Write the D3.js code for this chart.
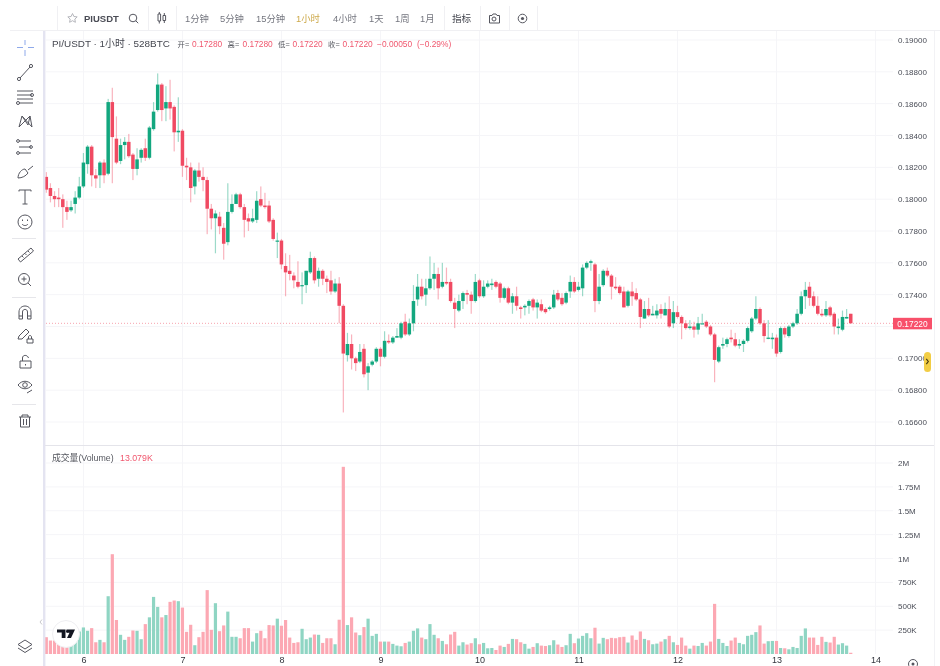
<!DOCTYPE html>
<html>
<head>
<meta charset="utf-8">
<script src="https://cdn.jsdelivr.net/npm/d3@7"></script>
<style>
  html, body { margin: 0; padding: 0; background: #fff; overflow: hidden; }
  svg { display: block; filter: blur(0.4px); }
  text { font-family: "Liberation Sans", "Noto Sans CJK SC", sans-serif; }
  .tick line, .domain { display: none; }
  .icon { fill: none; stroke: #55565f; stroke-width: 1; }
</style>
</head>
<body>
<div id="chart"></div>
<script>
// DATA ------------------------------------
const opens = [
  0.1814,0.1807,0.1802,0.1801,0.1800,0.1795,0.1793,0.1797,0.1801,0.1808,0.1822,0.1833,0.1815,0.1815,
  0.1823,0.1816,0.1861,0.1838,0.1824,0.1834,0.1836,0.1828,0.1819,0.1826,0.1832,0.1826,0.1844,0.1856,
  0.1872,0.1857,0.1861,0.1858,0.1842,0.1843,0.1821,0.1820,0.1808,0.1818,0.1814,0.1812,0.1794,0.1788,
  0.1789,0.1782,0.1773,0.1792,0.1797,0.1803,0.1795,0.1788,0.1786,0.1787,0.1800,0.1796,0.1796,0.1787,
  0.1774,0.1774,0.1758,0.1755,0.1752,0.1748,0.1746,0.1746,0.1754,0.1763,0.1750,0.1755,0.1750,0.1749,
  0.1742,0.1747,0.1733,0.1702,0.1709,0.1700,0.1698,0.1706,0.1691,0.1696,0.1698,0.1706,0.1701,0.1711,
  0.1710,0.1713,0.1713,0.1723,0.1715,0.1722,0.1737,0.1745,0.1740,0.1744,0.1750,0.1753,0.1745,0.1748,
  0.1748,0.1735,0.1730,0.1736,0.1741,0.1740,0.1736,0.1749,0.1739,0.1745,0.1746,0.1748,0.1747,0.1738,
  0.1744,0.1735,0.1739,0.1732,0.1732,0.1733,0.1737,0.1732,0.1734,0.1731,0.1731,0.1732,0.1741,0.1738,
  0.1735,0.1742,0.1748,0.1743,0.1744,0.1757,0.1760,0.1759,0.1736,0.1746,0.1755,0.1752,0.1745,0.1745,
  0.1742,0.1733,0.1742,0.1741,0.1737,0.1725,0.1731,0.1727,0.1727,0.1731,0.1727,0.1731,0.1722,0.1729,
  0.1726,0.1722,0.1719,0.1720,0.1718,0.1722,0.1723,0.1720,0.1715,0.1698,0.1708,0.1709,0.1713,0.1712,
  0.1708,0.1709,0.1711,0.1717,0.1725,0.1731,0.1722,0.1713,0.1712,0.1713,0.1704,0.1719,0.1714,0.1720,
  0.1722,0.1728,0.1739,0.1745,0.1739,0.1733,0.1728,0.1727,0.1732,0.1728,0.1719,0.1718,0.1725,0.1728
]
const highs = [
  0.1817,0.1810,0.1805,0.1807,0.1803,0.1799,0.1799,0.1805,0.1814,0.1829,0.1834,0.1834,0.1819,0.1824,
  0.1825,0.1863,0.1870,0.1852,0.1838,0.1839,0.1841,0.1829,0.1832,0.1832,0.1838,0.1846,0.1861,0.1879,
  0.1873,0.1871,0.1875,0.1859,0.1864,0.1844,0.1826,0.1823,0.1819,0.1823,0.1820,0.1814,0.1797,0.1793,
  0.1792,0.1785,0.1810,0.1803,0.1804,0.1804,0.1797,0.1791,0.1794,0.1805,0.1808,0.1804,0.1799,0.1788,
  0.1779,0.1775,0.1766,0.1765,0.1754,0.1761,0.1754,0.1755,0.1767,0.1764,0.1757,0.1756,0.1752,0.1755,
  0.1750,0.1751,0.1734,0.1716,0.1715,0.1701,0.1709,0.1709,0.1697,0.1699,0.1707,0.1707,0.1717,0.1715,
  0.1714,0.1719,0.1723,0.1728,0.1725,0.1746,0.1753,0.1750,0.1750,0.1764,0.1760,0.1757,0.1760,0.1757,
  0.1750,0.1738,0.1740,0.1742,0.1743,0.1742,0.1753,0.1750,0.1749,0.1749,0.1750,0.1749,0.1748,0.1745,
  0.1745,0.1741,0.1745,0.1733,0.1734,0.1737,0.1738,0.1737,0.1737,0.1732,0.1733,0.1743,0.1743,0.1741,
  0.1742,0.1752,0.1751,0.1748,0.1759,0.1761,0.1762,0.1760,0.1753,0.1756,0.1757,0.1753,0.1751,0.1746,
  0.1745,0.1743,0.1748,0.1744,0.1738,0.1736,0.1738,0.1733,0.1734,0.1734,0.1735,0.1739,0.1736,0.1733,
  0.1727,0.1724,0.1724,0.1723,0.1726,0.1728,0.1724,0.1721,0.1716,0.1708,0.1713,0.1713,0.1718,0.1716,
  0.1712,0.1712,0.1720,0.1726,0.1739,0.1732,0.1724,0.1724,0.1716,0.1715,0.1720,0.1720,0.1721,0.1723,
  0.1731,0.1742,0.1748,0.1748,0.1742,0.1739,0.1731,0.1736,0.1733,0.1729,0.1725,0.1730,0.1731,0.1728
]
const lows = [
  0.1804,0.1798,0.1795,0.1795,0.1782,0.1787,0.1792,0.1791,0.1800,0.1807,0.1816,0.1808,0.1807,0.1807,
  0.1810,0.1815,0.1810,0.1822,0.1822,0.1825,0.1826,0.1812,0.1815,0.1823,0.1824,0.1825,0.1843,0.1855,
  0.1849,0.1849,0.1850,0.1830,0.1836,0.1814,0.1812,0.1798,0.1803,0.1811,0.1805,0.1778,0.1781,0.1766,
  0.1778,0.1762,0.1771,0.1791,0.1797,0.1794,0.1776,0.1780,0.1785,0.1785,0.1795,0.1794,0.1785,0.1774,
  0.1763,0.1756,0.1739,0.1749,0.1744,0.1744,0.1734,0.1741,0.1753,0.1747,0.1745,0.1746,0.1741,0.1740,
  0.1741,0.1722,0.1666,0.1698,0.1693,0.1692,0.1697,0.1688,0.1680,0.1695,0.1697,0.1695,0.1700,0.1709,
  0.1709,0.1713,0.1712,0.1714,0.1714,0.1717,0.1733,0.1737,0.1733,0.1743,0.1743,0.1737,0.1744,0.1746,
  0.1735,0.1719,0.1729,0.1731,0.1734,0.1728,0.1735,0.1738,0.1738,0.1744,0.1743,0.1744,0.1735,0.1737,
  0.1734,0.1728,0.1730,0.1725,0.1727,0.1728,0.1730,0.1725,0.1729,0.1728,0.1730,0.1731,0.1736,0.1733,
  0.1734,0.1738,0.1741,0.1742,0.1739,0.1756,0.1755,0.1729,0.1734,0.1745,0.1751,0.1737,0.1743,0.1740,
  0.1732,0.1732,0.1733,0.1736,0.1719,0.1725,0.1726,0.1727,0.1725,0.1725,0.1727,0.1719,0.1719,0.1725,
  0.1712,0.1718,0.1718,0.1713,0.1715,0.1722,0.1719,0.1714,0.1685,0.1697,0.1706,0.1707,0.1710,0.1707,
  0.1706,0.1704,0.1710,0.1716,0.1724,0.1721,0.1710,0.1712,0.1706,0.1701,0.1703,0.1713,0.1713,0.1719,
  0.1721,0.1727,0.1731,0.1733,0.1732,0.1727,0.1726,0.1726,0.1726,0.1715,0.1715,0.1717,0.1725,0.1722
]
const closes = [
  0.1806,0.1802,0.1800,0.1800,0.1795,0.1792,0.1795,0.1801,0.1808,0.1823,0.1833,0.1815,0.1813,0.1823,
  0.1815,0.1861,0.1839,0.1823,0.1834,0.1836,0.1827,0.1819,0.1825,0.1831,0.1826,0.1845,0.1855,0.1872,
  0.1856,0.1861,0.1857,0.1842,0.1843,0.1821,0.1820,0.1807,0.1818,0.1814,0.1812,0.1794,0.1788,0.1791,
  0.1783,0.1772,0.1792,0.1797,0.1803,0.1795,0.1787,0.1786,0.1788,0.1799,0.1796,0.1795,0.1786,0.1775,
  0.1774,0.1759,0.1754,0.1753,0.1749,0.1745,0.1746,0.1755,0.1763,0.1749,0.1755,0.1750,0.1748,0.1742,
  0.1747,0.1733,0.1703,0.1709,0.1700,0.1697,0.1704,0.1690,0.1695,0.1698,0.1706,0.1701,0.1711,0.1710,
  0.1713,0.1714,0.1722,0.1715,0.1722,0.1736,0.1745,0.1739,0.1744,0.1750,0.1753,0.1744,0.1748,0.1747,
  0.1736,0.1731,0.1736,0.1741,0.1740,0.1736,0.1748,0.1739,0.1745,0.1747,0.1747,0.1745,0.1738,0.1744,
  0.1735,0.1739,0.1733,0.1731,0.1733,0.1736,0.1732,0.1735,0.1730,0.1729,0.1732,0.1740,0.1737,0.1734,
  0.1741,0.1748,0.1742,0.1745,0.1757,0.1760,0.1761,0.1736,0.1745,0.1755,0.1752,0.1745,0.1744,0.1741,
  0.1732,0.1742,0.1739,0.1737,0.1726,0.1731,0.1727,0.1728,0.1730,0.1728,0.1731,0.1720,0.1729,0.1726,
  0.1722,0.1719,0.1720,0.1718,0.1722,0.1722,0.1720,0.1715,0.1699,0.1707,0.1709,0.1712,0.1712,0.1708,
  0.1709,0.1711,0.1719,0.1725,0.1731,0.1722,0.1714,0.1713,0.1713,0.1703,0.1719,0.1715,0.1720,0.1722,
  0.1728,0.1739,0.1743,0.1738,0.1733,0.1728,0.1727,0.1731,0.1727,0.1720,0.1720,0.1726,0.1726,0.1722
]
// volume per candle, in thousands
const volumes = [
  176,141,141,148,113,95,95,218,236,278,243,271,123,148,123,605,1045,356,201,148,180,246,243,155,
  313,384,598,493,384,408,546,560,553,486,232,306,92,176,232,669,253,532,239,299,444,180,180,165,
  271,271,130,218,243,165,303,299,370,296,356,172,116,123,264,155,172,204,201,116,165,165,102,359,
  1960,303,384,225,197,282,370,190,211,130,130,130,106,88,81,116,130,243,268,172,155,313,201,165,
  137,102,204,232,88,123,99,113,165,102,116,60,63,42,88,74,106,158,155,123,106,56,74,113,
  88,84,92,144,99,74,92,211,113,162,190,218,165,275,109,169,155,169,165,176,180,120,194,148,
  236,158,144,102,109,130,155,190,123,95,172,88,56,88,84,116,88,130,525,158,116,84,141,172,
  116,102,190,201,229,299,109,134,137,137,63,60,49,74,63,190,268,172,172,95,180,127,120,180,
  99,113,88,13
]
const priceTicks = [0.19,0.188,0.186,0.184,0.182,0.18,0.178,0.176,0.174,0.172,0.17,0.168,0.166]
// the 0.172 label sits under the last price box, so the axis leaves it out
const priceLabelTicks = [0.19,0.188,0.186,0.184,0.182,0.18,0.178,0.176,0.174,0.17,0.168,0.166]
const volumeTicks = [2000,1750,1500,1250,1000,750,500,250]
const volumeTickLabels = ["2M","1.75M","1.5M","1.25M","1M","750K","500K","250K"]
// index of the first candle of each day
const dayIndex = [9,33,57,81,105,129,153,177,201]
const dayLabels = ["6","7","8","9","10","11","12","13","14"]
const lastPrice = 0.1722
const timeframes = ["1分钟","5分钟","15分钟","1小时","4小时","1天","1周","1月"]
const timeframeX = [185,220,256,296,333,369,395,420]

// CHART INIT ------------------------------
const width = 940, height = 666
const green = "#13a77f", red = "#f04a62"
const greenVol = "#8fd5c3", redVol = "#fca8b3"
const gridColor = "#f5f5f8", axisText = "#4a4d57"

const svg = d3.select("#chart").append("svg")
    .attr("width", width)
    .attr("height", height)

const xScale = d3.scaleLinear().domain([0, 201]).range([46.3, 875.5])
const yScale = d3.scaleLinear().domain([0.19, 0.166]).range([40, 422])
const vScale = d3.scaleLinear().domain([0, 2000]).range([654, 463])

const candles = d3.range(opens.length).map(i => ({
    i, o: opens[i], h: highs[i], l: lows[i], c: closes[i], v: volumes[i], up: closes[i] >= opens[i]
}))

// GRID ------------------------------------
svg.append("g").selectAll("line").data(dayIndex).join("line")
    .attr("x1", d => xScale(d)).attr("x2", d => xScale(d))
    .attr("y1", 31).attr("y2", 654)
    .attr("stroke", gridColor)
svg.append("g").selectAll("line").data(priceTicks).join("line")
    .attr("x1", 46).attr("x2", 893)
    .attr("y1", d => yScale(d)).attr("y2", d => yScale(d))
    .attr("stroke", gridColor)
svg.append("g").selectAll("line").data(volumeTicks).join("line")
    .attr("x1", 46).attr("x2", 893)
    .attr("y1", d => vScale(d)).attr("y2", d => vScale(d))
    .attr("stroke", gridColor)

// VOLUME ----------------------------------
svg.append("g").selectAll("rect").data(candles).join("rect")
    .attr("x", d => xScale(d.i) - 1.6)
    .attr("width", 3.2)
    .attr("y", d => vScale(d.v))
    .attr("height", d => vScale(0) - vScale(d.v))
    .attr("fill", d => d.up ? greenVol : redVol)

// LAST PRICE LINE -------------------------
svg.append("line")
    .attr("x1", 46).attr("x2", 893)
    .attr("y1", yScale(lastPrice)).attr("y2", yScale(lastPrice))
    .attr("stroke", "#f7a3af")
    .attr("stroke-dasharray", "1 2")

// CANDLES ---------------------------------
svg.append("g").selectAll("rect").data(candles).join("rect")
    .attr("x", d => xScale(d.i) - 0.6)
    .attr("width", 1.2)
    .attr("y", d => yScale(d.h))
    .attr("height", d => yScale(d.l) - yScale(d.h))
    .attr("fill", d => d.up ? green : red)
    .attr("fill-opacity", 0.42)
svg.append("g").selectAll("rect").data(candles).join("rect")
    .attr("x", d => xScale(d.i) - 1.75)
    .attr("width", 3.5)
    .attr("y", d => yScale(Math.max(d.o, d.c)))
    .attr("height", d => Math.max(1.2, Math.abs(yScale(d.o) - yScale(d.c))))
    .attr("fill", d => d.up ? green : red)

// AXES ------------------------------------
const priceAxis = d3.axisRight(yScale)
    .tickValues(priceLabelTicks)
    .tickFormat(d3.format(".5f"))
    .tickSize(0)
    .tickPadding(0)
const gPrice = svg.append("g").attr("transform", "translate(898,0)").call(priceAxis)
const volAxis = d3.axisRight(vScale)
    .tickValues(volumeTicks)
    .tickFormat((d, i) => volumeTickLabels[i])
    .tickSize(0)
    .tickPadding(0)
const gVol = svg.append("g").attr("transform", "translate(898,0)").call(volAxis)
const timeAxis = d3.axisBottom(xScale)
    .tickValues(dayIndex)
    .tickFormat((d, i) => dayLabels[i])
    .tickSize(0)
    .tickPadding(0)
const gTime = svg.append("g").attr("transform", "translate(0,657)").call(timeAxis)
gPrice.selectAll("text").attr("fill", axisText).style("font-size", "8px")
gVol.selectAll("text").attr("fill", axisText).style("font-size", "8px")
gTime.selectAll("text").attr("fill", "#33353d").style("font-size", "9px")
svg.selectAll(".domain").remove()

// CHROME LINES ----------------------------
const chrome = svg.append("g")
chrome.append("rect").attr("x", 43).attr("y", 31).attr("width", 2.4).attr("height", 635).attr("fill", "#e4e4f1")
chrome.append("line").attr("x1", 10).attr("x2", 940).attr("y1", 30.5).attr("y2", 30.5).attr("stroke", "#f0f0f3")
chrome.append("line").attr("x1", 45).attr("x2", 934).attr("y1", 445.5).attr("y2", 445.5).attr("stroke", "#e4e4ea")
chrome.append("line").attr("x1", 934.5).attr("x2", 934.5).attr("y1", 31).attr("y2", 666).attr("stroke", "#f2f2f5")
chrome.selectAll(".sep").data([57,148,176,444,480,509,537]).join("line")
    .attr("x1", d => d + 0.5).attr("x2", d => d + 0.5)
    .attr("y1", 6).attr("y2", 30)
    .attr("stroke", "#f0f0f3")
chrome.selectAll(".lsep").data([238,297,404]).join("line")
    .attr("x1", 12).attr("x2", 36)
    .attr("y1", d => d + 0.5).attr("y2", d => d + 0.5)
    .attr("stroke", "#e6e6ea")

// TOP TOOLBAR -----------------------------
const tb = svg.append("g")
tb.append("text").attr("x", 84).attr("y", 21.5).text("PIUSDT")
    .style("font-size", "9.5px").style("font-weight", "bold").attr("fill", "#4a4c55")
tb.selectAll(".tf").data(timeframes).join("text")
    .attr("x", (d, i) => timeframeX[i])
    .attr("y", 22)
    .text(d => d)
    .style("font-size", "9.4px")
    .attr("fill", d => d === "1小时" ? "#cda94a" : "#74767f")
tb.append("text").attr("x", 452).attr("y", 22).text("指标")
    .style("font-size", "9.6px").attr("fill", "#44464f")
// star
tb.append("path").attr("class", "icon")
    .style("stroke", "#b4b5bb")
    .attr("d", "M72.5 13.5l1.4 3 3.3.4-2.4 2.2.6 3.2-2.9-1.6-2.9 1.6.6-3.2-2.4-2.2 3.3-.4z")
// search
tb.append("circle").attr("class", "icon").attr("cx", 133).attr("cy", 18).attr("r", 3.8)
tb.append("path").attr("class", "icon").attr("d", "M135.8 20.8l2.4 2.4")
// candle type
tb.append("path").attr("class", "icon").attr("d", "M158 14h2.6v7H158zM159.3 12v2M159.3 21v2.5M163 15.5h2.6v5H163zM164.3 13v2.5M164.3 20.5v2.5")
// camera
tb.append("path").attr("class", "icon").attr("d", "M489.5 15.5h2.5l1-1.5h3l1 1.5h2.5v7.5h-10z")
tb.append("circle").attr("class", "icon").attr("cx", 494).attr("cy", 19).attr("r", 2)
// gear
tb.append("circle").attr("class", "icon").attr("cx", 522.5).attr("cy", 18.5).attr("r", 4.3)
tb.append("circle").attr("cx", 522.5).attr("cy", 18.5).attr("r", 1.6).attr("fill", "#55565f")

// LEGENDS ---------------------------------
const lg = svg.append("g")
lg.append("text").attr("x", 52).attr("y", 47).text("PI/USDT · 1小时 · 528BTC")
    .style("font-size", "9.9px").attr("fill", "#44464f")
const ohlcLabels = [["开=",177.5],["高=",227.5],["低=",278],["收=",328]]
const ohlcValues = [["0.17280",192],["0.17280",242.5],["0.17220",292.5],["0.17220",342.5],["−0.00050",377],["(−0.29%)",417]]
lg.selectAll(".ol").data(ohlcLabels).join("text")
    .attr("x", d => d[1]).attr("y", 46.5).text(d => d[0])
    .style("font-size", "7.4px").attr("fill", "#55575f")
lg.selectAll(".ov").data(ohlcValues).join("text")
    .attr("x", d => d[1]).attr("y", 46.5).text(d => d[0])
    .style("font-size", "8.4px").attr("fill", "#f0576e")
lg.append("text").attr("x", 52).attr("y", 461).text("成交量(Volume)")
    .style("font-size", "8.8px").attr("fill", "#55575f")
lg.append("text").attr("x", 120).attr("y", 461).text("13.079K")
    .style("font-size", "8.8px").attr("fill", "#f0576e")

// PRICE LABELS ----------------------------
svg.append("rect").attr("x", 893).attr("y", yScale(lastPrice) - 5.5).attr("width", 39).attr("height", 11.5).attr("fill", "#f8506a")
svg.append("text").attr("x", 912.5).attr("y", yScale(lastPrice) + 3.2)
    .attr("text-anchor", "middle").attr("fill", "#fff")
    .style("font-size", "8.4px").text(d3.format(".5f")(lastPrice))
svg.append("rect").attr("x", 924).attr("y", 352).attr("width", 7).attr("height", 20).attr("rx", 3.5).attr("fill", "#f2cd45")
svg.append("path").attr("d", "M926.3 358.8l2 2.7-2 2.7").attr("fill", "none").attr("stroke", "#4a3d10").attr("stroke-width", 1.2)

// LEFT TOOLBAR ----------------------------
const lb = svg.append("g")
// crosshair
lb.append("path").attr("class", "icon").style("stroke", "#8ea9ea")
    .attr("d", "M25 40v5M25 50v6M17 47.5h6M28 47.5h6")
// trend line
lb.append("path").attr("class", "icon").attr("d", "M20 78L30 67")
lb.append("circle").attr("class", "icon").attr("cx", 19).attr("cy", 79).attr("r", 1.6)
lb.append("circle").attr("class", "icon").attr("cx", 31).attr("cy", 66).attr("r", 1.6)
// fib lines
lb.append("path").attr("class", "icon").attr("d", "M17 91h16M17 95h15M17 99h16M19 103h14")
lb.append("circle").attr("class", "icon").attr("cx", 32).attr("cy", 95).attr("r", 1.5)
lb.append("circle").attr("class", "icon").attr("cx", 18).attr("cy", 103).attr("r", 1.5)
// xabcd
lb.append("path").attr("class", "icon").attr("d", "M19 127L22 116L28 125L30 116L32 127L22 116M19 127L30 116")
// fib tool
lb.append("path").attr("class", "icon").attr("d", "M19 141h12M19 147h12M19 153h12")
lb.append("circle").attr("class", "icon").attr("cx", 18).attr("cy", 141).attr("r", 1.4)
lb.append("circle").attr("class", "icon").attr("cx", 31).attr("cy", 147).attr("r", 1.4)
lb.append("circle").attr("class", "icon").attr("cx", 18).attr("cy", 153).attr("r", 1.4)
// brush
lb.append("path").attr("class", "icon").attr("d", "M18 178c0-5 4-9 7-9l3 4c-2 3-6 5-10 5zM28 170l5-4")
// text
lb.append("path").attr("class", "icon").attr("d", "M19 191.5v-1.5h12v1.5M25 190v14M22.5 204h5")
// smile
lb.append("circle").attr("class", "icon").attr("cx", 25).attr("cy", 222).attr("r", 7)
lb.append("path").attr("class", "icon").attr("d", "M22 224c1.5 2 4.5 2 6 0M22.5 219.5v1.5M27.5 219.5v1.5")
// ruler
lb.append("path").attr("class", "icon").attr("d", "M18 259l13-11 2.5 3-13 11zM22 256l1.5 1.5M25 253.5l1.5 1.5M28 251l1.5 1.5")
// zoom
lb.append("circle").attr("class", "icon").attr("cx", 24).attr("cy", 279).attr("r", 5.5)
lb.append("path").attr("class", "icon").attr("d", "M21.5 279h5M24 276.5v5M28 283l3 3")
// magnet
lb.append("path").attr("class", "icon").attr("d", "M19 319v-7c0-8 12-8 12 0v7h-3.5v-7c0-3.5-5-3.5-5 0v7zM19 316h3.5M27.5 316h3.5")
// pencil lock
lb.append("path").attr("class", "icon").attr("d", "M18 339l1-3 7-7 3 3-7 7zM27 339h6v4h-6zM28.5 339v-2c0-2 3-2 3 0v2")
// lock
lb.append("path").attr("class", "icon").attr("d", "M20 361h11v7h-11zM22.5 361v-3c0-3.5 5-3.5 6 0M25.5 364v1.5")
// eye
lb.append("path").attr("class", "icon").attr("d", "M18 385c4-5 10-5 14 0c-4 5-10 5-14 0zM27 393l5-3")
lb.append("circle").attr("class", "icon").attr("cx", 25).attr("cy", 385).attr("r", 2.3)
// trash
lb.append("path").attr("class", "icon").attr("d", "M19 417h12M22 417v-2h6v2M20.5 417v10h9v-10M23.5 419v6M26.5 419v6")
// layers
lb.append("path").attr("class", "icon").attr("d", "M25 640l7 4.5-7 4.5-7-4.5zM18 648l7 4.5 7-4.5")
// collapse handle
svg.append("path").attr("d", "M42 619.5l-2 2.5 2 2.5").attr("fill", "none").attr("stroke", "#c8c8cc")

// TV LOGO ---------------------------------
svg.append("circle").attr("cx", 66).attr("cy", 634).attr("r", 13.5).attr("fill", "#fff").attr("stroke", "#eeeef1")
svg.append("path").attr("fill", "#131722")
    .attr("d", "M57 629.5h8.5v8.5h-3.8v-5.400h-4.700zM66.500 629.500h8.500l-4 8.500h-4l2.500-5.300h-3z")
svg.append("circle").attr("cx", 67.5).attr("cy", 631.2).attr("r", 1.3).attr("fill", "#131722")

// GEAR BOTTOM RIGHT -----------------------
svg.append("circle").attr("class", "icon").attr("cx", 913).attr("cy", 664).attr("r", 4.5)
svg.append("circle").attr("cx", 913).attr("cy", 664).attr("r", 1.5).attr("fill", "#55565f")
</script>
</body>
</html>
